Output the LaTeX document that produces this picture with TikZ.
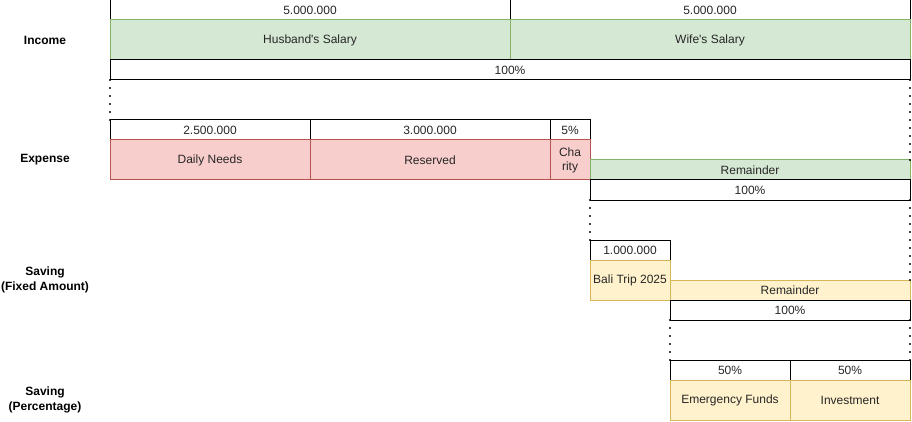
\documentclass[tikz,border=0pt]{standalone}
\usepackage{fontspec}
\setmainfont{Liberation Sans}
\definecolor{greenfill}{HTML}{D5E8D4}
\definecolor{greenline}{HTML}{82B366}
\definecolor{redfill}{HTML}{F8CECC}
\definecolor{redline}{HTML}{B85450}
\definecolor{yellowfill}{HTML}{FFF2CC}
\definecolor{yellowline}{HTML}{D6B656}
\tikzset{
  cell/.style={draw, line width=1pt, anchor=north west, inner sep=0pt, outer sep=0pt,
    minimum height=20pt, align=center, font=\fontsize{12}{14}\selectfont, text=black!85},
  tall/.style={cell, minimum height=40pt},
  income/.style={fill=greenfill, draw=greenline},
  expense/.style={fill=redfill, draw=redline},
  saving/.style={fill=yellowfill, draw=yellowline},
  rowlabel/.style={align=center, font=\fontsize{12}{15}\selectfont\bfseries},
  dots/.style={line width=2.2pt, line cap=round, dash pattern=on 0pt off 8pt}
}
\begin{document}
\begin{tikzpicture}[x=1pt, y=-1pt]
\useasboundingbox (0,0) rectangle (912,422);

\node[rowlabel] (lblInc) at (45,40) {Income};
\node[rowlabel] (lblExp) at (45,160) {Expense};
\node[rowlabel] (lblFix) at (45,280) {Saving\\(Fixed Amount)};
\node[rowlabel] (lblPct) at (45,400) {Saving\\(Percentage)};

\node[cell, minimum width=400pt] (incHval) at (110,0) {5.000.000};
\node[cell, minimum width=400pt] (incWval) at (510,0) {5.000.000};
\node[tall, income, minimum width=400pt] (incH) at (110,20) {Husband\textquotesingle s Salary};
\node[tall, income, minimum width=400pt] (incW) at (510,20) {Wife\textquotesingle s Salary};
\node[cell, minimum width=800pt] (incPct) at (110,60) {100\%};

\node[cell, minimum width=200pt] (expDval) at (110,120) {2.500.000};
\node[cell, minimum width=240pt] (expRval) at (310,120) {3.000.000};
\node[cell, minimum width=40pt] (expCval) at (550,120) {5\%};
\node[tall, expense, minimum width=200pt] (expD) at (110,140) {Daily Needs};
\node[tall, expense, minimum width=240pt] (expR) at (310,140) {Reserved};
\node[tall, expense, minimum width=40pt] (expC) at (550,140) {Cha\\rity};
\node[cell, income, minimum width=320pt] (expRem) at (590,160) {Remainder};
\node[cell, minimum width=320pt] (expPct) at (590,180) {100\%};

\node[cell, minimum width=80pt] (fixBval) at (590,240) {1.000.000};
\node[tall, saving, minimum width=80pt] (fixB) at (590,260) {Bali Trip 2025};
\node[cell, saving, minimum width=240pt] (fixRem) at (670,280) {Remainder};
\node[cell, minimum width=240pt] (fixPct) at (670,300) {100\%};

\node[cell, minimum width=120pt] (pctEval) at (670,360) {50\%};
\node[cell, minimum width=120pt] (pctIval) at (790,360) {50\%};
\node[tall, saving, minimum width=120pt] (pctE) at (670,380) {Emergency Funds};
\node[tall, saving, minimum width=120pt] (pctI) at (790,380) {Investment};

\draw[dots] (incPct.south west) -- (expDval.north west);
\draw[dots] (incPct.south east) -- (expRem.north east);
\draw[dots] (expPct.south west) -- (fixBval.north west);
\draw[dots] (expPct.south east) -- (fixRem.north east);
\draw[dots] (fixPct.south west) -- (pctEval.north west);
\draw[dots] (fixPct.south east) -- (pctIval.north east);
\end{tikzpicture}
\end{document}
